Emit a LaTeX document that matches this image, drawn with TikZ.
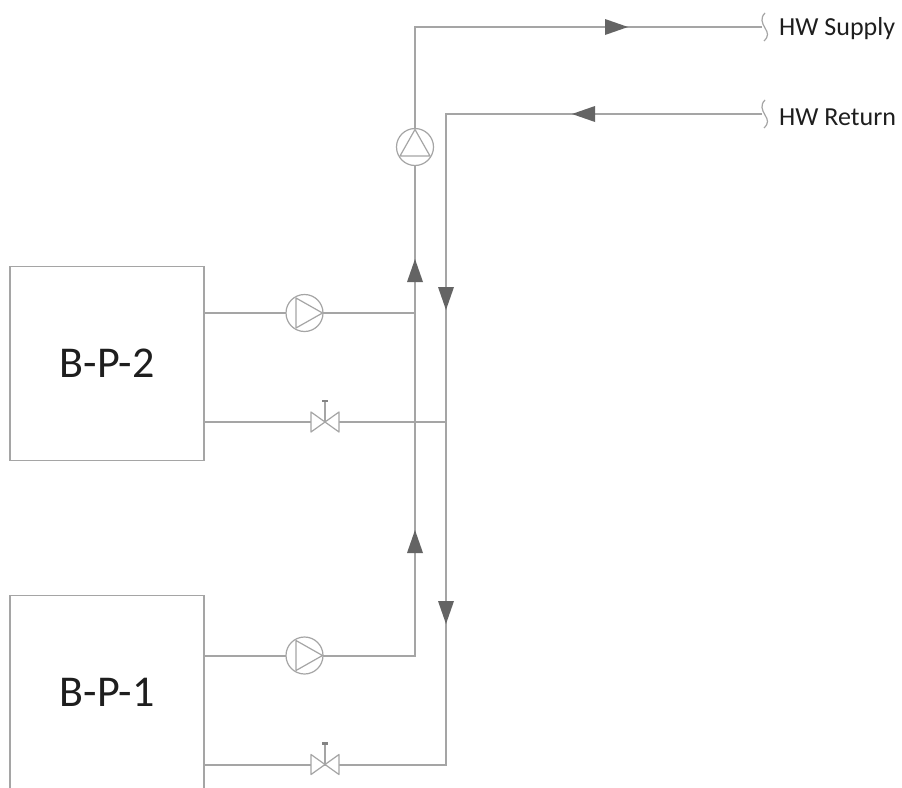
\documentclass[tikz,border=0pt]{standalone}
\usepackage{fontspec}
\setmainfont{Carlito}
\definecolor{linegrey}{RGB}{165,165,165}
\definecolor{tipgrey}{RGB}{100,100,100}
\definecolor{txt}{RGB}{30,30,30}
\tikzset{
  x=1pt,y=-1pt,
  pipe/.style={draw=linegrey,line width=1.5pt},
  sym/.style={draw=linegrey,line width=1.2pt},
  boxnode/.style={draw=linegrey,line width=1.4pt,fill=white,minimum width=194pt,minimum height=194pt,inner sep=0pt,font=\fontsize{44}{46}\selectfont,text=txt},
  pumpnode/.style={circle,draw=linegrey,line width=1.2pt,fill=white,minimum size=37pt,inner sep=0pt},
  tagnode/.style={anchor=west,inner sep=0pt,font=\fontsize{26}{28}\selectfont,text=txt}
}
% tip position given as the point of the arrowhead
\newcommand{\tipright}[2]{\fill[tipgrey] (#1,#2) -- (#1-23,#2-8) -- (#1-23,#2+8) -- cycle;}
\newcommand{\tipleft}[2]{\fill[tipgrey] (#1,#2) -- (#1+23,#2-8) -- (#1+23,#2+8) -- cycle;}
\newcommand{\tipup}[2]{\fill[tipgrey] (#1,#2) -- (#1-8,#2+23) -- (#1+8,#2+23) -- cycle;}
\newcommand{\tipdown}[2]{\fill[tipgrey] (#1,#2) -- (#1-8,#2-23) -- (#1+8,#2-23) -- cycle;}
\newcommand{\valvesym}[2]{% x y
  \draw[sym,fill=white,line join=round] (#1-14,#2-10) -- (#1+14,#2+10) -- (#1+14,#2-10) -- (#1-14,#2+10) -- cycle;
  \draw[sym] (#1,#2) -- (#1,#2-21);
  \draw[draw=tipgrey!80,line width=2.2pt] (#1-3,#2-21) -- (#1+3,#2-21);}
\begin{document}
\begin{tikzpicture}
\useasboundingbox (0,0) rectangle (902,787);
\clip (0,0) rectangle (902,787);
\fill[white] (0,0) rectangle (902,787);

\node[boxnode] (b2) at (107,363.5) {B-P-2};
\node[boxnode] (b1) at (107,692.5) {B-P-1};

\coordinate (s0) at (415,27);
\coordinate (sE) at (762,27);
\coordinate (r0) at (446,114);
\coordinate (rE) at (762,114);
\coordinate (sB) at (415,656);
\coordinate (s2) at (415,313);
\coordinate (r2) at (446,422);
\coordinate (rB) at (446,765);
\coordinate (v2l) at (204,422);
\coordinate (v1l) at (204,765);
\coordinate (p2l) at (204,313);
\coordinate (p1l) at (204,656);

% main pipes
\draw[pipe] (sE) -- (s0) -- (sB) -- (p1l);
\draw[pipe] (rE) -- (r0) -- (rB) -- (v1l);
\draw[pipe] (p2l) -- (s2);
\draw[pipe] (v2l) -- (r2);

% break marks
\draw[sym] (765,13) .. controls (760,18) and (762,23) .. (765,28) .. controls (768,33) and (769,36) .. (764,41);
\draw[sym] (765,100) .. controls (760,105) and (762,110) .. (765,115) .. controls (768,120) and (769,123) .. (764,128);

% pumps
\node[pumpnode] (pt) at (415,147) {};
\draw[sym,line join=round] (415,129.5) -- (400,156) -- (430,156) -- cycle;
\node[pumpnode] (p2) at (304.5,313) {};
\draw[sym,line join=round] (322.5,313) -- (296,298) -- (296,328) -- cycle;
\node[pumpnode] (p1) at (304.5,655.5) {};
\draw[sym,line join=round] (322.5,655.5) -- (296,640.5) -- (296,670.5) -- cycle;

% valves
\valvesym{325}{422}
\valvesym{325}{764.5}

% flow arrows
\tipright{628}{27}
\tipleft{572}{114}
\tipup{415}{259}
\tipup{415}{530}
\tipdown{446}{310}
\tipdown{446}{624}

% labels
\node[tagnode] (hs) at (779,29) {HW Supply};
\node[tagnode] (hr) at (779,117) {HW Return};
\end{tikzpicture}
\end{document}
